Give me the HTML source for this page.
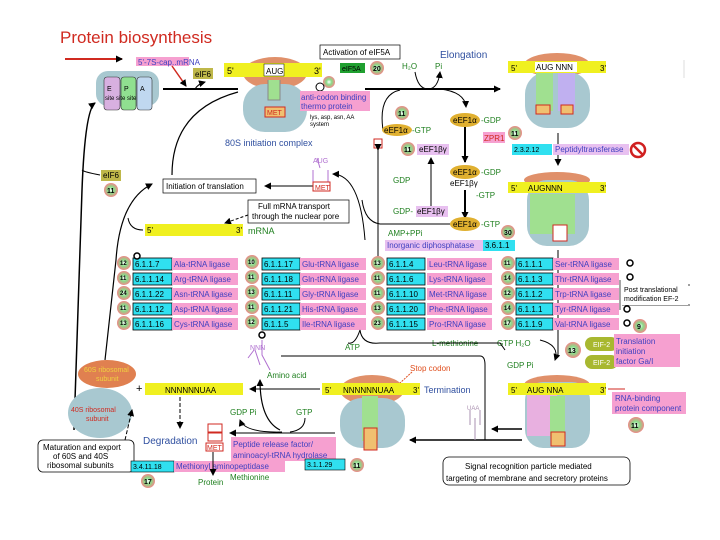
<!DOCTYPE html>
<html><head><meta charset="utf-8"><style>
html,body{margin:0;padding:0;background:#fff;}
svg{display:block;font-family:"Liberation Sans",sans-serif;}
</style></head><body>
<svg width="720" height="540" viewBox="0 0 720 540" xmlns="http://www.w3.org/2000/svg">
<defs>
<marker id="a" markerWidth="7" markerHeight="7" refX="6" refY="3.5" orient="auto" markerUnits="userSpaceOnUse"><path d="M0,0L7,3.5L0,7z" fill="#000"/></marker>
<radialGradient id="bd"><stop offset="0" stop-color="#fff"/><stop offset="0.45" stop-color="#8d8"/><stop offset="1" stop-color="#e88"/></radialGradient>
</defs>
<rect width="720" height="540" fill="#fff"/>
<line x1="684" y1="60" x2="684" y2="78" stroke="#ddd"/>
<!-- title -->
<text x="60" y="43" font-size="17" fill="#d02a20">Protein biosynthesis</text>
<line x1="65" y1="59" x2="122" y2="59" stroke="#d02a20" stroke-width="2" marker-end="url(#a)"/>
<rect x="136" y="57" width="53" height="9" fill="#f6a0d0"/><text x="138" y="65" font-size="8" fill="#4040c0">5'-7S-cap..mRNA</text>
<line x1="172" y1="66" x2="186" y2="86" stroke="#d02a20" stroke-width="1.5" marker-end="url(#a)"/>
<!-- EPA ribosome -->
<rect x="96" y="71" width="63" height="35" rx="12" fill="#a8c8d0"/>
<rect x="104" y="77" width="16" height="33" rx="3" fill="#d8b0e0" stroke="#333" stroke-width="0.6"/>
<rect x="121" y="77" width="15" height="33" rx="3" fill="#90e090" stroke="#333" stroke-width="0.6"/>
<rect x="137" y="77" width="15" height="33" rx="3" fill="#c0d8f0" stroke="#333" stroke-width="0.6"/>
<text x="107" y="91" font-size="7">E</text><text x="124" y="91" font-size="7">P</text><text x="140" y="91" font-size="7">A</text>
<text x="105" y="100" font-size="6">site site site</text>
<rect x="193" y="68" width="20" height="11" fill="#bfb84a"/><text x="195" y="77" font-size="8">eIF6</text>
<line x1="163" y1="89" x2="238" y2="89" stroke="#000" stroke-width="2"/>
<path d="M195,89 Q198,84 205,82" fill="none" stroke="#000" marker-end="url(#a)"/>
<!-- top center ribosome -->
<ellipse cx="275" cy="73" rx="32" ry="16" fill="#e0906a"/>
<rect x="243" y="84" width="64" height="48" rx="22" fill="#a8c8d0"/>
<rect x="224" y="63" width="98" height="14" fill="#f0f020"/>
<text x="227" y="74" font-size="9">5'</text><text x="314" y="74" font-size="9">3'</text>
<rect x="264" y="64" width="20" height="12" fill="#fff" stroke="#000" stroke-width="0.5"/><text x="266" y="74" font-size="8">AUG</text>
<path d="M268,80 L268,100 L280,100 L280,80" fill="#a0e090" stroke="#888"/>
<rect x="265" y="107" width="20" height="10" fill="#f0c070" stroke="#d02a20"/><text x="267" y="115" font-size="7" fill="#d02a20">MET</text>
<text x="225" y="146" font-size="9" fill="#3050a0">80S initiation complex</text>
<!-- activation -->
<rect x="320" y="45" width="80" height="14" fill="#fff" stroke="#000" stroke-width="0.7"/><text x="323" y="55" font-size="8">Activation of eIF5A</text>
<text x="440" y="58" font-size="10" fill="#3050a0">Elongation</text>
<rect x="340" y="63" width="25" height="10" fill="#20a030"/><text x="342" y="71" font-size="7">eIF5A</text>
<circle cx="377" cy="68" r="7" fill="url(#bd)"/><text x="373" y="71" font-size="7" font-weight="bold">20</text>
<circle cx="329" cy="82" r="6" fill="url(#bd)"/><circle cx="320" cy="87" r="4" fill="#fff" stroke="#000"/>
<rect x="300" y="91" width="70" height="20" fill="#f6a0d0"/><text x="301" y="100" font-size="8" fill="#4040c0">anti-codon binding</text><text x="301" y="109" font-size="8" fill="#4040c0">thermo protein</text>
<text x="310" y="119" font-size="6">lys, asp, asn, AA</text><text x="310" y="126" font-size="6">system</text>
<text x="402" y="69" font-size="8" fill="#208020">H₂O</text><text x="435" y="69" font-size="8" fill="#208020">Pi</text>
<line x1="365" y1="89" x2="500" y2="89" stroke="#000" stroke-width="2" marker-end="url(#a)"/>
<path d="M415,72 Q418,89 428,89 Q438,89 440,72" fill="none" stroke="#000" marker-end="url(#a)"/>
<path d="M440,89 Q465,92 466,107" fill="none" stroke="#000" marker-end="url(#a)"/>
<path d="M383,130 Q378,95 400,90" fill="none" stroke="#000"/>
<!-- elongation factors -->
<ellipse cx="465" cy="120" rx="15" ry="7" fill="#e0b030"/><text x="453" y="123" font-size="8">eEF1α</text><text x="481" y="123" font-size="8" fill="#208020">-GDP</text>
<circle cx="402" cy="113" r="7" fill="url(#bd)"/><text x="398" y="116" font-size="7" font-weight="bold">11</text>
<ellipse cx="397" cy="130" rx="15" ry="6" fill="#e0b030"/><text x="384" y="133" font-size="8">eEF1α</text><text x="412" y="133" font-size="8" fill="#208020">-GTP</text>
<rect x="374" y="139" width="8" height="9" fill="#fff" stroke="#d02a20"/>
<circle cx="408" cy="149" r="7" fill="url(#bd)"/><text x="404" y="152" font-size="7" font-weight="bold">11</text>
<rect x="417" y="144" width="32" height="11" fill="#e8c0f0"/><text x="419" y="152" font-size="8">eEF1βγ</text>
<line x1="465" y1="127" x2="465" y2="162" stroke="#000" stroke-width="2" marker-end="url(#a)"/>
<rect x="483" y="132" width="22" height="11" fill="#f6a0d0"/><text x="484" y="141" font-size="8" fill="#d02a20">ZPR1</text>
<circle cx="515" cy="133" r="7" fill="url(#bd)"/><text x="511" y="136" font-size="7" font-weight="bold">11</text>
<ellipse cx="465" cy="172" rx="15" ry="7" fill="#e0b030"/><text x="453" y="175" font-size="8">eEF1α</text><text x="481" y="175" font-size="8" fill="#208020">-GDP</text>
<text x="450" y="186" font-size="8">eEF1βγ</text>
<text x="393" y="183" font-size="8" fill="#208020">GDP</text>
<line x1="465" y1="190" x2="465" y2="218" stroke="#000" stroke-width="2" marker-end="url(#a)"/>
<text x="476" y="198" font-size="8" fill="#208020">-GTP</text>
<text x="393" y="214" font-size="8" fill="#208020">GDP-</text><rect x="416" y="206" width="32" height="11" fill="#e8c0f0"/><text x="417" y="214" font-size="8">eEF1βγ</text>
<line x1="431" y1="206" x2="431" y2="158" stroke="#000" marker-end="url(#a)"/>
<ellipse cx="465" cy="224" rx="15" ry="7" fill="#e0b030"/><text x="453" y="227" font-size="8">eEF1α</text><text x="481" y="227" font-size="8" fill="#208020">-GTP</text>
<path d="M450,224 L380,224 Q365,222 362,200" fill="none" stroke="#000"/>
<circle cx="508" cy="232" r="7" fill="url(#bd)"/><text x="504" y="235" font-size="7" font-weight="bold">30</text>
<text x="388" y="236" font-size="8" fill="#208020">AMP+PPi</text>
<rect x="385" y="240" width="98" height="11" fill="#e8c0f0"/><text x="387" y="248" font-size="8" fill="#4040c0">Inorganic diphosphatase</text>
<rect x="483" y="240" width="32" height="11" fill="#30e0f0"/><text x="485" y="248" font-size="8">3.6.1.1</text>
<line x1="378" y1="150" x2="378" y2="265" stroke="#000" marker-start="url(#a)"/>
<!-- right ribosomes -->
<ellipse cx="557" cy="65" rx="33" ry="12" fill="#e0906a"/>
<rect x="525" y="72" width="65" height="56" rx="22" fill="#a8c8d0"/>
<rect x="508" y="61" width="98" height="12" fill="#f0f020"/><text x="511" y="71" font-size="8">5'</text><text x="600" y="71" font-size="8">3'</text>
<rect x="535" y="62" width="42" height="10" fill="#fff"/><text x="536" y="70" font-size="8">AUG NNN</text>
<rect x="536" y="73" width="17" height="38" fill="#a0e090"/><rect x="558" y="73" width="17" height="38" fill="#c0b0f0"/>
<rect x="536" y="105" width="14" height="9" fill="#f0c070" stroke="#d02a20"/><rect x="561" y="105" width="12" height="9" fill="#f0c070" stroke="#d02a20"/>
<line x1="558" y1="133" x2="558" y2="165" stroke="#000" marker-end="url(#a)"/>
<rect x="512" y="144" width="40" height="11" fill="#30e0f0"/><text x="514" y="152" font-size="7">2.3.2.12</text>
<rect x="553" y="144" width="76" height="11" fill="#e8c0f0"/><text x="555" y="152" font-size="8" fill="#4040c0">Peptidyltransferase</text>
<circle cx="638" cy="150" r="7" fill="#fff" stroke="#d02020" stroke-width="2.5"/><line x1="633" y1="145" x2="643" y2="155" stroke="#d02020" stroke-width="2.5"/>
<ellipse cx="557" cy="180" rx="33" ry="8" fill="#e0906a"/>
<rect x="527" y="180" width="62" height="66" rx="20" fill="#a8c8d0"/>
<rect x="508" y="182" width="98" height="11" fill="#f0f020"/><text x="511" y="191" font-size="8">5'</text><text x="600" y="191" font-size="8">3'</text><text x="528" y="191" font-size="8">AUGNNN</text>
<rect x="530" y="194" width="25" height="40" fill="#a0e090"/><rect x="555" y="194" width="20" height="40" fill="#a0e090"/>
<rect x="553" y="225" width="14" height="16" fill="#fff" stroke="#d02a20"/>
<line x1="558" y1="250" x2="558" y2="355" stroke="#000"/>
<!-- left column lines -->
<path d="M74,430 L82,190 Q85,110 95,103" fill="none" stroke="#000" stroke-width="1.5" marker-end="url(#a)"/>
<path d="M82,170 Q84,172 100,175" fill="none" stroke="#000"/>
<rect x="101" y="170" width="20" height="11" fill="#bfb84a"/><text x="103" y="178" font-size="8">eIF6</text>
<circle cx="111" cy="190" r="7" fill="url(#bd)"/><text x="107" y="193" font-size="7" font-weight="bold">11</text>
<path d="M105,360 L116,260 Q120,200 152,184" fill="none" stroke="#000" stroke-width="1.2" marker-end="url(#a)"/>
<path d="M128,218 Q130,230 143,230" fill="none" stroke="#000"/>
<path d="M172,175 Q172,110 238,92" fill="none" stroke="#000" stroke-width="1.2"/>
<rect x="163" y="179" width="93" height="14" fill="#fff" stroke="#000" stroke-width="0.7"/><text x="166" y="189" font-size="8">Initiation of translation</text>
<line x1="315" y1="186" x2="265" y2="186" stroke="#000" marker-end="url(#a)"/>
<path d="M320,168 L317,158 M313,170 L313,182 L328,182 L328,170" fill="none" stroke="#b070d0"/><text x="313" y="163" font-size="7" fill="#b070d0">AUG</text>
<rect x="313" y="182" width="17" height="9" fill="#fff" stroke="#d02a20"/><text x="315" y="190" font-size="7" fill="#d02a20">MET</text>
<path d="M365,240 Q360,175 333,174" fill="none" stroke="#000" marker-end="url(#a)"/>
<rect x="248" y="200" width="101" height="23" fill="#fff" stroke="#000" stroke-width="0.7"/><text x="258" y="209" font-size="8">Full mRNA transport</text><text x="252" y="219" font-size="8">through the nuclear pore</text>
<line x1="248" y1="215" x2="225" y2="223" stroke="#000" stroke-dasharray="3,2" marker-end="url(#a)"/>
<rect x="145" y="224" width="98" height="12" fill="#f0f020"/><text x="147" y="233" font-size="8">5'</text><text x="236" y="233" font-size="8">3'</text>
<text x="248" y="234" font-size="9" fill="#208020">mRNA</text>
<!-- enzyme table -->
<g font-size="8">
<g fill="#30e0f0" stroke="#000" stroke-width="0.8">
<rect x="133" y="258" width="39" height="12"/><rect x="133" y="273" width="39" height="12"/><rect x="133" y="288" width="39" height="12"/><rect x="133" y="303" width="39" height="12"/><rect x="133" y="318" width="39" height="12"/>
<rect x="262" y="258" width="38" height="12"/><rect x="262" y="273" width="38" height="12"/><rect x="262" y="288" width="38" height="12"/><rect x="262" y="303" width="38" height="12"/><rect x="262" y="318" width="38" height="12"/>
<rect x="387" y="258" width="38" height="12"/><rect x="387" y="273" width="38" height="12"/><rect x="387" y="288" width="38" height="12"/><rect x="387" y="303" width="38" height="12"/><rect x="387" y="318" width="38" height="12"/>
<rect x="516" y="258" width="37" height="12"/><rect x="516" y="273" width="37" height="12"/><rect x="516" y="288" width="37" height="12"/><rect x="516" y="303" width="37" height="12"/><rect x="516" y="318" width="37" height="12"/>
</g>
<g fill="#f6a0d0">
<rect x="172" y="258" width="66" height="12"/><rect x="172" y="273" width="66" height="12"/><rect x="172" y="288" width="66" height="12"/><rect x="172" y="303" width="66" height="12"/><rect x="172" y="318" width="66" height="12"/>
<rect x="300" y="258" width="66" height="12"/><rect x="300" y="273" width="66" height="12"/><rect x="300" y="288" width="66" height="12"/><rect x="300" y="303" width="66" height="12"/><rect x="300" y="318" width="66" height="12"/>
<rect x="427" y="258" width="65" height="12"/><rect x="427" y="273" width="65" height="12"/><rect x="427" y="288" width="65" height="12"/><rect x="427" y="303" width="65" height="12"/><rect x="427" y="318" width="65" height="12"/>
<rect x="553" y="258" width="66" height="12"/><rect x="553" y="273" width="66" height="12"/><rect x="553" y="288" width="66" height="12"/><rect x="553" y="303" width="66" height="12"/><rect x="553" y="318" width="66" height="12"/>
</g>
<g>
<text x="135" y="267">6.1.1.7</text><text x="135" y="282">6.1.1.14</text><text x="135" y="297">6.1.1.22</text><text x="135" y="312">6.1.1.12</text><text x="135" y="327">6.1.1.16</text>
<text x="264" y="267">6.1.1.17</text><text x="264" y="282">6.1.1.18</text><text x="264" y="297">6.1.1.11</text><text x="264" y="312">6.1.1.21</text><text x="264" y="327">6.1.1.5</text>
<text x="389" y="267">6.1.1.4</text><text x="389" y="282">6.1.1.6</text><text x="389" y="297">6.1.1.10</text><text x="389" y="312">6.1.1.20</text><text x="389" y="327">6.1.1.15</text>
<text x="518" y="267">6.1.1.1</text><text x="518" y="282">6.1.1.3</text><text x="518" y="297">6.1.1.2</text><text x="518" y="312">6.1.1.1</text><text x="518" y="327">6.1.1.9</text>
</g>
<g fill="#4040c0">
<text x="174" y="267">Ala-tRNA ligase</text><text x="174" y="282">Arg-tRNA ligase</text><text x="174" y="297">Asn-tRNA ligase</text><text x="174" y="312">Asp-tRNA ligase</text><text x="174" y="327">Cys-tRNA ligase</text>
<text x="302" y="267">Glu-tRNA ligase</text><text x="302" y="282">Gln-tRNA ligase</text><text x="302" y="297">Gly-tRNA ligase</text><text x="302" y="312">His-tRNA ligase</text><text x="302" y="327">Ile-tRNA ligase</text>
<text x="429" y="267">Leu-tRNA ligase</text><text x="429" y="282">Lys-tRNA ligase</text><text x="429" y="297">Met-tRNA ligase</text><text x="429" y="312">Phe-tRNA ligase</text><text x="429" y="327">Pro-tRNA ligase</text>
<text x="555" y="267">Ser-tRNA ligase</text><text x="555" y="282">Thr-tRNA ligase</text><text x="555" y="297">Trp-tRNA ligase</text><text x="555" y="312">Tyr-tRNA ligase</text><text x="555" y="327">Val-tRNA ligase</text>
</g>
<g fill="url(#bd)">
<circle cx="124" cy="263" r="7"/><circle cx="124" cy="278" r="7"/><circle cx="124" cy="293" r="7"/><circle cx="124" cy="308" r="7"/><circle cx="124" cy="323" r="7"/>
<circle cx="252" cy="262" r="7"/><circle cx="252" cy="277" r="7"/><circle cx="252" cy="292" r="7"/><circle cx="252" cy="307" r="7"/><circle cx="252" cy="322" r="7"/>
<circle cx="378" cy="263" r="7"/><circle cx="378" cy="278" r="7"/><circle cx="378" cy="293" r="7"/><circle cx="378" cy="308" r="7"/><circle cx="378" cy="323" r="7"/>
<circle cx="508" cy="263" r="7"/><circle cx="508" cy="278" r="7"/><circle cx="508" cy="293" r="7"/><circle cx="508" cy="308" r="7"/><circle cx="508" cy="323" r="7"/>
</g>
<g font-size="6" font-weight="bold">
<text x="120" y="265">12</text><text x="120" y="280">11</text><text x="120" y="295">24</text><text x="120" y="310">11</text><text x="120" y="325">13</text>
<text x="248" y="264">10</text><text x="248" y="279">11</text><text x="248" y="294">13</text><text x="248" y="309">11</text><text x="248" y="324">12</text>
<text x="374" y="265">13</text><text x="374" y="280">11</text><text x="374" y="295">11</text><text x="374" y="310">13</text><text x="374" y="325">23</text>
<text x="504" y="265">11</text><text x="504" y="280">14</text><text x="504" y="295">12</text><text x="504" y="310">14</text><text x="504" y="325">17</text>
</g>
</g>
<g fill="#fff" stroke="#000" stroke-width="1.5">
<circle cx="137" cy="256" r="3"/><circle cx="262" cy="335" r="3"/><circle cx="630" cy="263" r="3"/><circle cx="630" cy="277" r="3"/><circle cx="627" cy="309" r="3"/><circle cx="627" cy="323" r="3"/>
</g>
<circle cx="640" cy="326" r="7" fill="url(#bd)"/><text x="637" y="329" font-size="7" font-weight="bold">9</text>
<path d="M620,280 L620,310 M622,285 L690,285 M622,305 L690,305" fill="none" stroke="#000" stroke-width="0.7"/>
<rect x="622" y="283" width="66" height="22" fill="#fff"/><text x="624" y="292" font-size="7">Post translational</text><text x="624" y="301" font-size="7">modification EF-2</text>
<!-- bottom middle area -->
<text x="432" y="346" font-size="8" fill="#208020">L-methionine</text>
<text x="497" y="346" font-size="8" fill="#208020">GTP H₂O</text>
<text x="507" y="368" font-size="8" fill="#208020">GDP Pi</text>
<circle cx="573" cy="350" r="8" fill="url(#bd)"/><text x="568" y="353" font-size="7" font-weight="bold">13</text>
<rect x="585" y="337" width="33" height="14" rx="7" fill="#a8b830"/><text x="593" y="347" font-size="7" fill="#fff">EIF-2</text>
<rect x="585" y="355" width="33" height="14" rx="7" fill="#a8b830"/><text x="593" y="365" font-size="7" fill="#fff">EIF-2</text>
<rect x="614" y="334" width="66" height="33" fill="#f6a0d0"/><text x="616" y="344" font-size="8" fill="#4040c0">Translation</text><text x="616" y="354" font-size="8" fill="#4040c0">initiation</text><text x="616" y="364" font-size="8" fill="#4040c0">factor Ga/I</text>
<path d="M540,340 Q560,345 555,360" fill="none" stroke="#000" marker-end="url(#a)"/>
<path d="M348,343 Q355,345 360,330 Q362,345 380,343 L500,343 L505,350" fill="none" stroke="#000"/>
<path d="M281,356 L480,356 Q485,356 485,365 L485,440" fill="none" stroke="#000"/>
<text x="345" y="350" font-size="8" fill="#208020">ATP</text>
<text x="410" y="371" font-size="8" fill="#e05020">Stop codon</text>
<line x1="412" y1="372" x2="400" y2="383" stroke="#e05020" stroke-dasharray="2,1"/>
<!-- bottom right ribosome -->
<ellipse cx="557" cy="385" rx="33" ry="10" fill="#e0906a"/>
<rect x="525" y="382" width="65" height="66" rx="18" fill="#a8c8d0"/>
<rect x="527" y="384" width="30" height="52" fill="#e8b0e0"/>
<rect x="508" y="383" width="98" height="12" fill="#f0f020"/><text x="511" y="393" font-size="8">5'</text><text x="600" y="393" font-size="8">3'</text><text x="527" y="393" font-size="8">AUG NNA</text>
<rect x="550" y="396" width="15" height="40" fill="#a0e090"/>
<rect x="551" y="432" width="14" height="14" fill="#f0c070" stroke="#d02a20"/>
<line x1="608" y1="389" x2="625" y2="389" stroke="#d02a20"/>
<rect x="612" y="392" width="74" height="22" fill="#f6a0d0"/><text x="615" y="401" font-size="8" fill="#4040c0">RNA-binding</text><text x="615" y="411" font-size="8" fill="#4040c0">protein component</text>
<circle cx="636" cy="425" r="8" fill="url(#bd)"/><text x="631" y="428" font-size="7" font-weight="bold">11</text>
<line x1="522" y1="429" x2="492" y2="429" stroke="#000" stroke-width="1.5" marker-end="url(#a)"/>
<line x1="522" y1="440" x2="410" y2="440" stroke="#000" stroke-width="1.5" marker-end="url(#a)"/>
<path d="M475,440 L475,418 M470,425 L470,410 M480,425 L480,410" stroke="#aa90b0" fill="none"/><text x="467" y="410" font-size="6" fill="#aa90b0">UAA</text>
<rect x="443" y="457" width="187" height="28" rx="6" fill="#fff" stroke="#000" stroke-width="0.8"/><text x="465" y="469" font-size="8">Signal recognition particle mediated</text><text x="446" y="481" font-size="8">targeting of membrane and secretory proteins</text>
<!-- bottom middle ribosome -->
<ellipse cx="372" cy="390" rx="32" ry="15" fill="#e0906a"/>
<rect x="340" y="398" width="65" height="50" rx="22" fill="#a8c8d0"/>
<rect x="322" y="383" width="98" height="12" fill="#f0f020"/><text x="325" y="393" font-size="8">5'</text><text x="343" y="393" font-size="8">NNNNNNUAA</text><text x="413" y="393" font-size="8">3'</text>
<rect x="362" y="396" width="16" height="45" fill="#a0e090"/>
<rect x="364" y="428" width="13" height="22" fill="#f0c070" stroke="#d02a20"/>
<text x="424" y="393" font-size="9" fill="#3050a0">Termination</text>
<line x1="320" y1="389" x2="250" y2="389" stroke="#000" marker-end="url(#a)"/>
<!-- bottom left -->
<ellipse cx="107" cy="374" rx="29" ry="14" fill="#e08050"/><text x="84" y="372" font-size="7" fill="#f0d040">60S ribosomal</text><text x="96" y="381" font-size="7" fill="#f0d040">subunit</text>
<ellipse cx="100" cy="413" rx="32" ry="25" fill="#a8c8d0"/><text x="71" y="412" font-size="7" fill="#d02a20">40S ribosomal</text><text x="86" y="421" font-size="7" fill="#d02a20">subunit</text>
<text x="136" y="392" font-size="11">+</text>
<rect x="145" y="383" width="98" height="12" fill="#f0f020"/><text x="165" y="393" font-size="8">NNNNNNUAA</text>
<line x1="180" y1="397" x2="180" y2="428" stroke="#000" stroke-dasharray="4,2" marker-end="url(#a)"/>
<text x="143" y="444" font-size="10" fill="#3050a0">Degradation</text>
<path d="M248,358 L254,350 M262,340 L262,355 L270,370 M255,350 L260,365" stroke="#b070d0" fill="none"/><text x="250" y="350" font-size="7" fill="#b070d0">NNN</text>
<text x="267" y="378" font-size="8" fill="#208020">Amino acid</text>
<path d="M280,430 Q260,420 260,380" fill="none" stroke="#000" stroke-width="1.2" marker-end="url(#a)"/>
<path d="M335,433 L230,433" fill="none" stroke="#000" marker-end="url(#a)"/>
<text x="230" y="415" font-size="8" fill="#208020">GDP Pi</text><text x="296" y="415" font-size="8" fill="#208020">GTP</text>
<path d="M282,432 Q245,433 240,420" fill="none" stroke="#000" marker-end="url(#a)"/><path d="M290,432 Q305,430 305,418" fill="none" stroke="#000"/>
<rect x="208" y="424" width="14" height="8" fill="#fff" stroke="#d02a20"/><rect x="208" y="433" width="14" height="8" fill="#fff" stroke="#d02a20"/><rect x="206" y="443" width="17" height="8" fill="#fff" stroke="#d02a20"/><text x="207" y="450" font-size="7" fill="#d02a20">MET</text>
<rect x="231" y="437" width="105" height="24" fill="#f6a0d0"/><text x="233" y="447" font-size="8" fill="#4040c0">Peptide release factor/</text><text x="233" y="458" font-size="8" fill="#4040c0">aminoacyl-tRNA hydrolase</text>
<rect x="305" y="459" width="40" height="11" fill="#30e0f0" stroke="#000" stroke-width="0.6"/><text x="307" y="467" font-size="7">3.1.1.29</text>
<circle cx="357" cy="465" r="7" fill="url(#bd)"/><text x="353" y="468" font-size="7" font-weight="bold">11</text>
<rect x="38" y="440" width="96" height="32" rx="5" fill="#fff" stroke="#000" stroke-width="0.8"/><text x="43" y="450" font-size="8">Maturation and export</text><text x="53" y="459" font-size="8">of 60S and 40S</text><text x="47" y="468" font-size="8">ribosomal subunits</text>
<line x1="125" y1="440" x2="132" y2="410" stroke="#000" stroke-dasharray="4,2" marker-end="url(#a)"/>
<rect x="131" y="461" width="43" height="11" fill="#30e0f0" stroke="#000" stroke-width="0.6"/><text x="133" y="469" font-size="7">3.4.11.18</text>
<rect x="174" y="461" width="111" height="11" fill="#f6a0d0"/><text x="176" y="469" font-size="8" fill="#4040c0">Methionyl aminopeptidase</text>
<circle cx="148" cy="481" r="7" fill="url(#bd)"/><text x="144" y="484" font-size="7" font-weight="bold">17</text>
<line x1="213" y1="452" x2="213" y2="475" stroke="#000" marker-end="url(#a)"/>
<text x="198" y="485" font-size="8" fill="#208020">Protein</text><text x="230" y="480" font-size="8" fill="#208020">Methionine</text>
</svg>
</body></html>
